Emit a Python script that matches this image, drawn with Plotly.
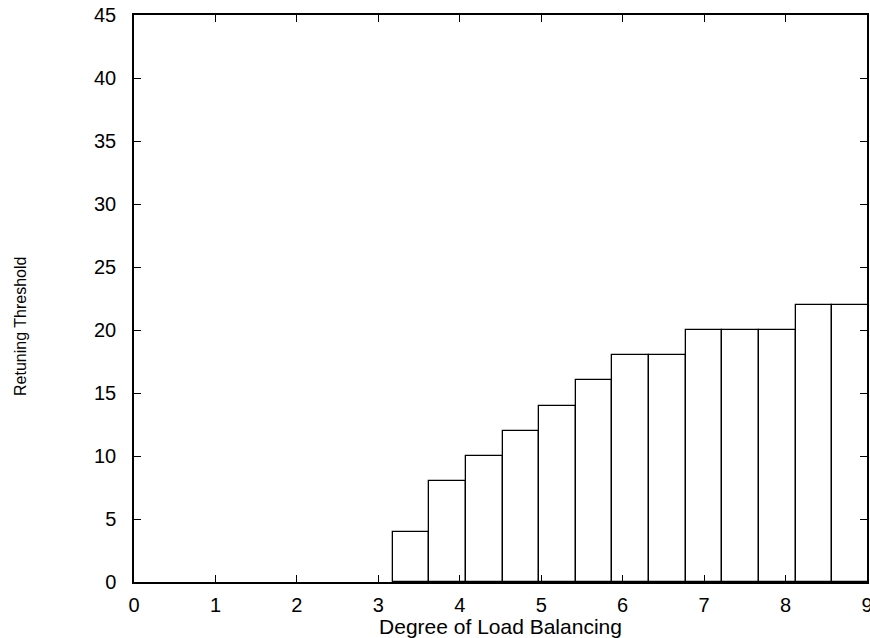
import plotly.graph_objects as go

# Data
degree = [3.4, 3.85, 4.3, 4.75, 5.2, 5.65, 6.1, 6.55, 7.0, 7.45, 7.9, 8.35, 8.8]
threshold = [4, 8, 10, 12, 14, 16, 18, 18, 20, 20, 20, 22, 22]
bar_width = 0.45
x_ticks = [0, 1, 2, 3, 4, 5, 6, 7, 8, 9]
y_ticks = [0, 5, 10, 15, 20, 25, 30, 35, 40, 45]

font_family = "Liberation Sans, Arial, sans-serif"

fig = go.Figure()
fig.add_trace(go.Bar(
    x=degree,
    y=threshold,
    width=[bar_width] * len(degree),
    marker=dict(color="white", line=dict(color="black", width=1.3)),
    showlegend=False,
))

axis_common = dict(
    showgrid=False,
    zeroline=False,
    showline=True,
    linecolor="black",
    linewidth=1.5,
    mirror="ticks",
    ticks="inside",
    ticklen=7,
    tickwidth=1.3,
    tickcolor="black",
    ticklabeloverflow="allow",
    tickfont=dict(family=font_family, size=20, color="black"),
)

fig.update_layout(
    width=876,
    height=638,
    margin=dict(l=134, r=3, t=15, b=56),
    paper_bgcolor="white",
    plot_bgcolor="white",
    bargap=0,
    xaxis=dict(
        range=[0, 9],
        tickvals=x_ticks,
        ticklabelstandoff=4,
        title=dict(text="Degree of Load Balancing",
                   font=dict(family=font_family, size=21, color="black"),
                   standoff=0),
        **axis_common,
    ),
    yaxis=dict(
        range=[0, 45],
        tickvals=y_ticks,
        ticklabelstandoff=12,
        **axis_common,
    ),
)

# y-axis title, placed slightly below the plot's middle as in the reference
fig.add_annotation(
    text="Retuning Threshold",
    xref="paper", yref="paper",
    x=-0.154, y=0.45,
    xanchor="center", yanchor="middle",
    textangle=-90,
    showarrow=False,
    font=dict(family=font_family, size=16, color="black"),
)

# remove the default page margin so the figure starts at the window's corner
fig.write_html("out.html",
               config={"displayModeBar": False},
               post_script="document.body.style.margin='0';document.body.style.overflow='hidden';")
